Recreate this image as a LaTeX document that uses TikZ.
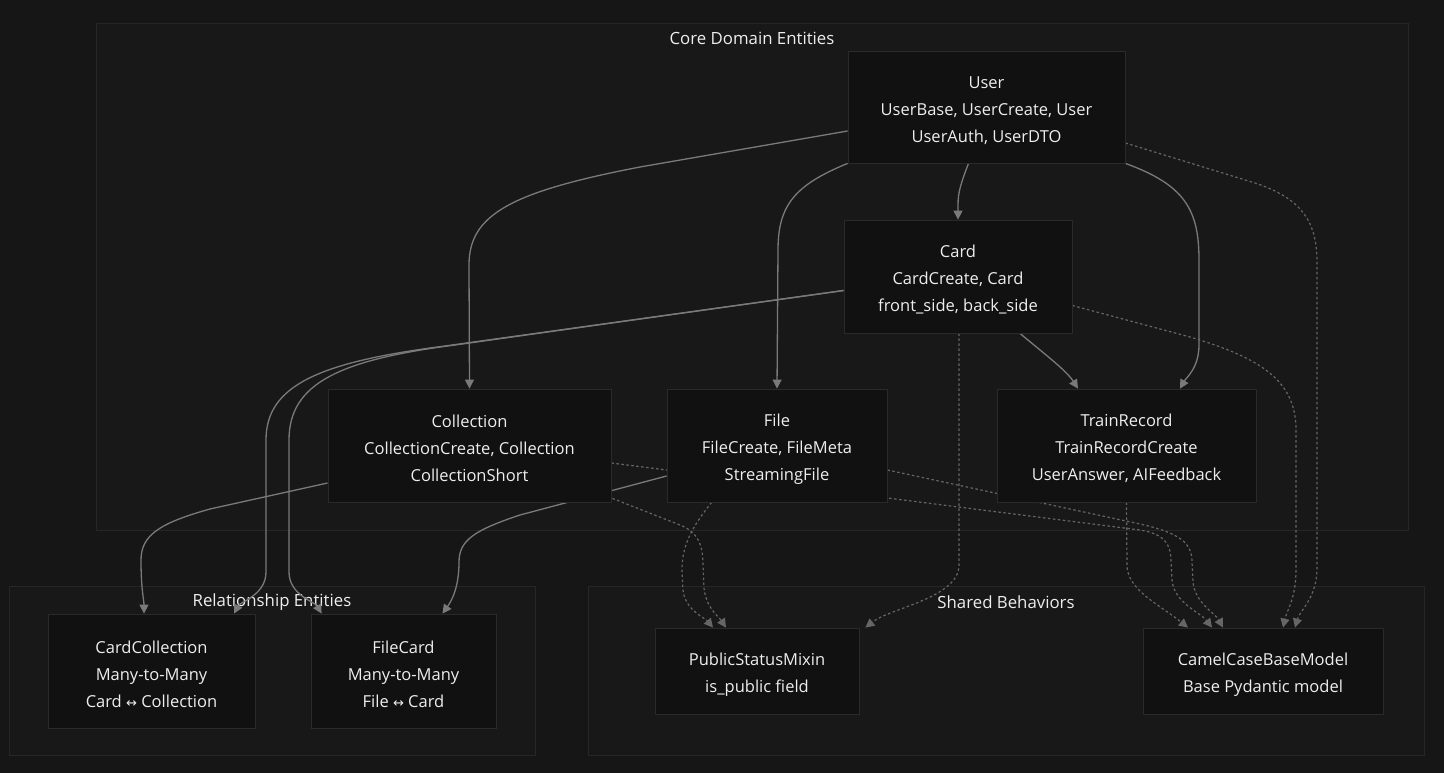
\documentclass[tikz,border=0pt]{standalone}
\usepackage{fontspec}
\setmainfont{Open Sans}
\newfontfamily\symfont{DejaVu Sans}
\usetikzlibrary{arrows.meta,calc}
\definecolor{bgc}{RGB}{22,22,22}
\definecolor{clfill}{RGB}{24,24,24}
\definecolor{cldraw}{RGB}{38,38,38}
\definecolor{ndfill}{RGB}{17,17,17}
\definecolor{nddraw}{RGB}{42,42,42}
\definecolor{edgec}{RGB}{122,122,122}
\definecolor{dotc}{RGB}{102,102,102}
\definecolor{txtc}{RGB}{238,238,238}
\pgfdeclarelayer{bglayer}
\pgfdeclarelayer{edgelayer}
\pgfsetlayers{bglayer,edgelayer,main}
\newcommand{\lr}{{\symfont\fontsize{13}{27}\selectfont ↔}}
\begin{document}
\begin{tikzpicture}[x=1pt,y=-1pt,
  entity/.style={draw=nddraw, fill=ndfill, line width=0.8pt, text=txtc, align=center,
    font=\fontsize{16.5}{27}\selectfont, inner sep=0pt},
  threeline/.style={entity, text height=73pt, minimum height=113pt},
  twoline/.style={entity, text height=47pt, minimum height=86pt},
  cluster/.style={draw=cldraw, fill=clfill, line width=0.8pt, inner sep=0pt},
  ctitle/.style={text=txtc, font=\fontsize{16.8}{20}\selectfont, inner sep=0pt},
  link/.style={draw=edgec, line width=1.3pt, -{Triangle[length=9pt,width=9pt]}},
  dlink/.style={draw=dotc, line width=1.2pt, dash pattern=on 2.5pt off 2.5pt, -{Triangle[length=9pt,width=9pt]}}
]
\begin{pgfonlayer}{bglayer}
\fill[bgc] (0,0) rectangle (1444,773);
\node[cluster, minimum width=1312pt, minimum height=507pt] (core) at (752,276.5) {};
\node[cluster, minimum width=526pt, minimum height=169pt] (rel) at (272,670.5) {};
\node[cluster, minimum width=836pt, minimum height=169pt] (shared) at (1006,670.5) {};
\node[ctitle] (coreT) at (752,38) {Core Domain Entities};
\node[ctitle] (relT) at (272,602) {Relationship Entities};
\node[ctitle] (sharedT) at (1006,602) {Shared Behaviors};
\end{pgfonlayer}
\useasboundingbox (0,0) rectangle (1444,773);

\node[threeline, minimum width=277pt, minimum height=112pt] (User) at (986.5,107)
  {User\\UserBase, UserCreate, User\\UserAuth, UserDTO};
\node[threeline, minimum width=228pt] (Card) at (958,276.5)
  {Card\\CardCreate, Card\\front\_side, back\_side};
\node[threeline, minimum width=283pt] (Collection) at (469.5,445.5)
  {Collection\\CollectionCreate, Collection\\CollectionShort};
\node[threeline, minimum width=220pt] (File) at (777,445.5)
  {File\\FileCreate, FileMeta\\StreamingFile};
\node[threeline, minimum width=259pt] (TrainRecord) at (1126.5,445.5)
  {TrainRecord\\TrainRecordCreate\\UserAnswer, AIFeedback};
\node[threeline, minimum width=207pt, minimum height=114pt] (CardCollection) at (151.5,671)
  {CardCollection\\Many-to-Many\\Card \lr{} Collection};
\node[threeline, minimum width=185pt, minimum height=114pt] (FileCard) at (403.5,671)
  {FileCard\\Many-to-Many\\File \lr{} Card};
\node[twoline, minimum width=204pt] (PSM) at (757,671)
  {PublicStatusMixin\\is\_public field};
\node[twoline, minimum width=240pt] (CCBM) at (1263,671)
  {CamelCaseBaseModel\\Base Pydantic model};

\begin{pgfonlayer}{edgelayer}
% solid edges
\draw[link] ($(User.south)+(-18,0)$) .. controls (961,183) and (958,192) .. (958,205) -- (Card.north);
\draw[link] ($(User.west)+(0,24)$) -- (640,167) .. controls (510,192) and (469,215) .. (469,265) -- (Collection.north);
\draw[link] (User.south west) .. controls (795,185) and (778,205) .. (778,250) -- (File.north);
\draw[link] (User.south east) .. controls (1185,185) and (1199,210) .. (1199,260) -- (1199,345)
  .. controls (1199,368) and (1186,378) .. ($(TrainRecord.north)+(53.5,0)$);
\draw[link] ($(Card.south)+(62,0)$) .. controls (1042,352) and (1066,370) .. ($(TrainRecord.north)+(-48.5,0)$);
\draw[link] ($(Card.west)+(0,14)$) -- (445,346) .. controls (320,362) and (266,385) .. (266,440)
  -- (266,572) .. controls (266,595) and (240,602) .. ($(CardCollection.north)+(82.5,0)$);
\draw[link] ($(Card.west)+(0,14)$) -- (455,345) .. controls (340,360) and (289,383) .. (289,440)
  -- (289,572) .. controls (289,595) and (315,602) .. ($(FileCard.north west)+(11,0)$);
\draw[link] ($(Collection.west)+(0,37.5)$) -- (210,509) .. controls (160,523) and (141,535) .. (141,560)
  .. controls (141,590) and (144,600) .. ($(CardCollection.north)+(-7.5,0)$);
\draw[link] ($(File.west)+(0,30.5)$) -- (520,515) .. controls (475,530) and (459,540) .. (459,562)
  .. controls (459,590) and (450,603) .. ($(FileCard.north)+(39,0)$);
% dotted edges
\draw[dlink] ($(User.east)+(0,36)$) -- (1255,183) .. controls (1300,198) and (1317,220) .. (1317,262)
  -- (1317,568) .. controls (1317,598) and (1300,610) .. ($(CCBM.north)+(32,0)$);
\draw[dlink] ($(Card.east)+(0,29)$) -- (1190,337) .. controls (1260,358) and (1296,380) .. (1296,430)
  -- (1296,570) .. controls (1296,598) and (1287,610) .. ($(CCBM.north)+(20,0)$);
\draw[dlink] (TrainRecord.south) -- (1127,565) .. controls (1127,590) and (1160,605) .. ($(CCBM.north)+(-75,0)$);
\draw[dlink] ($(Collection.east)+(0,17.5)$) -- (1140,530) .. controls (1163,534) and (1171,542) .. (1171,562)
  -- (1172,580) .. controls (1174,603) and (1200,612) .. ($(CCBM.north)+(-51,0)$);
\draw[dlink] ($(File.east)+(0,24.5)$) -- (1140,524) .. controls (1180,533) and (1192,543) .. (1192,562)
  -- (1193,582) .. controls (1195,603) and (1215,613) .. ($(CCBM.north)+(-40,0)$);
\draw[dlink] ($(Collection.south east)+(1,-4)$) -- (680,525) .. controls (698,532) and (703,545) .. (703,565)
  -- (704,588) .. controls (706,608) and (719,617) .. ($(PSM.north)+(-31,0)$);
\draw[dlink] ($(File.south west)+(45,0)$) .. controls (692,527) and (682,545) .. (682,570)
  -- (683,590) .. controls (685,610) and (705,618) .. ($(PSM.north)+(-44,0)$);
\draw[dlink] ($(Card.south)+(1,0)$) -- (959,565) .. controls (959,598) and (890,608) .. ($(PSM.north east)+(6,0)$);
\end{pgfonlayer}
\end{tikzpicture}
\end{document}
